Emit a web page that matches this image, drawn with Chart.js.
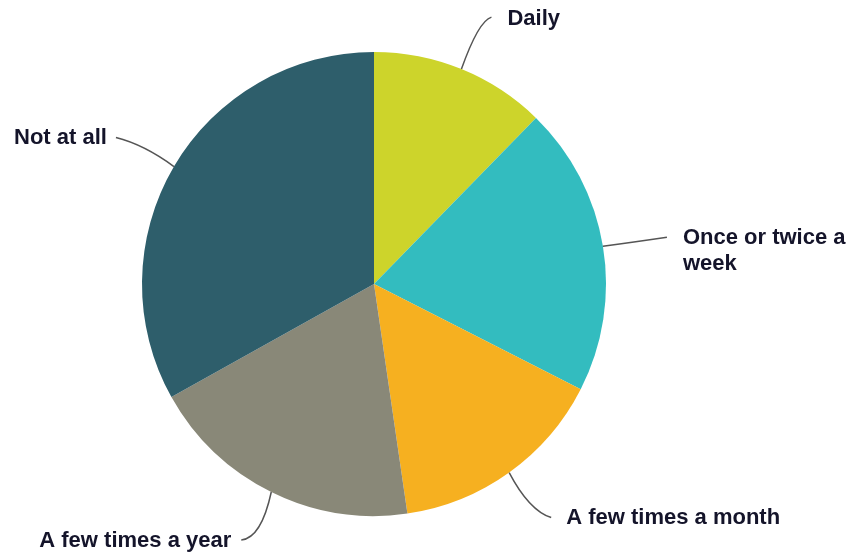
<!DOCTYPE html>
<html>
<head>
<meta charset="utf-8">
<title>Frequency</title>
<script src="https://cdn.jsdelivr.net/npm/chart.js@4/dist/chart.umd.min.js"></script>
<style>
  html, body { margin: 0; padding: 0; background: #ffffff; }
  #wrap { width: 852px; height: 556px; }
</style>
</head>
<body>
<div id="wrap"><canvas id="pie" width="852" height="556"></canvas></div>
<script>
// Answer categories and their shares (percent), clockwise from 12 o'clock
const categories = ['Daily', 'Once or twice a week', 'A few times a month', 'A few times a year', 'Not at all'];
const shares = [12.3, 20.2, 15.2, 19.2, 33.1];
// Text drawn beside each slice (split over lines)
const labelLines = [['Daily'], ['Once or twice a', 'week'], ['A few times a month'], ['A few times a year'], ['Not at all']];
const sliceColours = ['#cdd42b', '#33bcbf', '#f6b020', '#898878', '#2e5e6b'];

// Leader-line shape for each label, relative to the slice's outer mid-point
const leaderLayout = [
  { end: [30, -52], ctrl: [17, -48], text: [16, 2], align: 'left' },
  { end: [64, -9], ctrl: [30, -4], text: [16, 1], align: 'left' },
  { end: [42, 45], ctrl: [20, 38], text: [15, 0], align: 'left' },
  { end: [-30, 48], ctrl: [-10, 46], text: [-10, 1], align: 'right' },
  { end: [-58, -29], ctrl: [-30, -22], text: [-9, 0], align: 'right' }
];

const leaderLabels = {
  id: 'leaderLabels',
  afterDatasetsDraw(chart) {
    const ctx = chart.ctx;
    const arcs = chart.getDatasetMeta(0).data;
    ctx.save();
    arcs.forEach((arc, i) => {
      const p = arc.getProps(['x', 'y', 'startAngle', 'endAngle', 'outerRadius'], true);
      const mid = (p.startAngle + p.endAngle) / 2;
      const ax = p.x + Math.cos(mid) * p.outerRadius;
      const ay = p.y + Math.sin(mid) * p.outerRadius;
      const L = leaderLayout[i];
      const ex = ax + L.end[0], ey = ay + L.end[1];
      ctx.beginPath();
      ctx.moveTo(ax, ay);
      ctx.quadraticCurveTo(ax + L.ctrl[0], ay + L.ctrl[1], ex, ey);
      ctx.strokeStyle = '#555555';
      ctx.lineWidth = 1.5;
      ctx.stroke();

      ctx.fillStyle = '#14142a';
      ctx.font = 'bold 22px "Liberation Sans", Arial, sans-serif';
      ctx.textAlign = L.align;
      ctx.textBaseline = 'middle';
      labelLines[i].forEach((line, k) => {
        ctx.fillText(line, ex + L.text[0], ey + L.text[1] + k * 26);
      });
    });
    ctx.restore();
  }
};

new Chart(document.getElementById('pie'), {
  type: 'pie',
  data: {
    labels: categories,
    datasets: [{
      data: shares,
      backgroundColor: sliceColours,
      borderWidth: 0
    }]
  },
  options: {
    responsive: false,
    animation: false,
    layout: { padding: { top: 52, bottom: 40, left: 142, right: 246 } },
    plugins: {
      legend: { display: false },
      tooltip: { enabled: false }
    }
  },
  plugins: [leaderLabels]
});
</script>
</body>
</html>
